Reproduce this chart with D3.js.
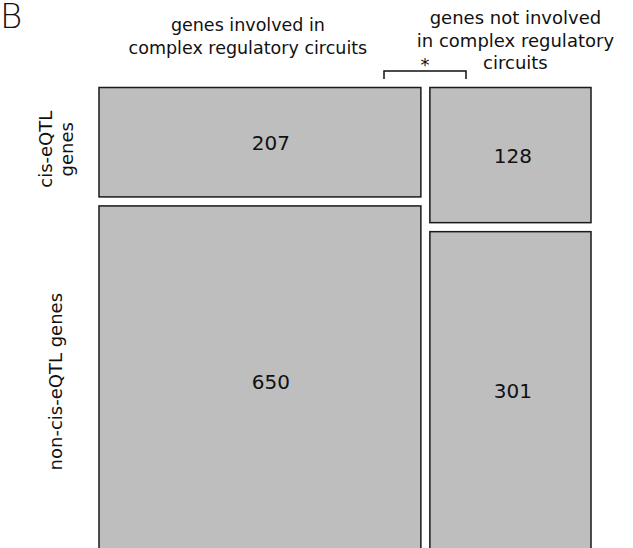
<!DOCTYPE html>
<html>
<head>
<meta charset="utf-8">
<script src="https://cdn.jsdelivr.net/npm/d3@7"></script>
<style>
  body { margin: 0; background: #fff; }
  text { font-family: "DejaVu Sans", sans-serif; fill: #111; }
</style>
</head>
<body>
<div id="chart"></div>
<script>
// mosaic: columns = circuit involvement, rows = cis-eQTL status
var columnNames = ["involved", "not involved"];
var columnLabels = [
    ["genes involved in", "complex regulatory circuits"],
    ["genes not involved", "in complex regulatory", "circuits"]
];
var rowLabels = [["cis-eQTL", "genes"], ["non-cis-eQTL genes"]];
var cisCounts = [207, 128];
var nonCisCounts = [650, 301];

var w = 633, h = 548;
var marginLeft = 99, marginTop = 87.5;
var plotW = 492, plotH = 462;
var gap = 9;

var colTotals = columnNames.map((c, i) => cisCounts[i] + nonCisCounts[i]);
var grand = d3.sum(colTotals);

var x = d3.scaleLinear().domain([0, grand]).range([0, plotW - gap]);

var svg = d3.select("#chart")
    .append("svg")
    .attr("width", w)
    .attr("height", h);

// build cells
var cells = [];
var xOff = 0;
columnNames.forEach(function(c, i){
    var y = d3.scaleLinear().domain([0, colTotals[i]]).range([0, plotH - gap]);
    var vals = [cisCounts[i], nonCisCounts[i]];
    var yOff = 0;
    vals.forEach(function(v, j){
        cells.push({
            col: i, row: j, value: v,
            x: marginLeft + x(xOff) + i * gap,
            y: marginTop + y(yOff) + j * gap,
            w: x(colTotals[i]),
            h: y(v)
        });
        yOff += v;
    });
    xOff += colTotals[i];
});

var g = svg.selectAll("g.cell")
    .data(cells)
    .enter()
    .append("g")
    .attr("class", "cell");

g.append("rect")
    .attr("x", d => d.x)
    .attr("y", d => d.y)
    .attr("width", d => d.w)
    .attr("height", d => d.h)
    .attr("fill", "#bebebe")
    .attr("stroke", "#1a1a1a")
    .attr("stroke-width", 1.5);

var nudge = [11, 2.5];
g.append("text")
    .attr("x", d => d.x + d.w / 2 + nudge[d.col])
    .attr("y", d => d.y + d.h / 2 + (d.row === 1 && d.col === 0 ? 6 : 2))
    .attr("text-anchor", "middle")
    .attr("dominant-baseline", "middle")
    .style("font-size", "20px")
    .text(d => d.value);

// column labels
var colCenters = [];
columnNames.forEach(function(c, i){
    var cell = cells.find(d => d.col === i && d.row === 0);
    colCenters.push(cell.x + cell.w / 2);
});
var colLabelBase = [31, 24];
var colShift = [-12, 5];
var colFont = [17.5, 18];
columnLabels.forEach(function(lines, i){
    var t = svg.append("text")
        .attr("text-anchor", "middle")
        .style("font-size", colFont[i] + "px");
    lines.forEach(function(s, k){
        t.append("tspan")
            .attr("x", colCenters[i] + colShift[i])
            .attr("y", colLabelBase[i] + k * 22.5)
            .text(s);
    });
});

// row labels (rotated)
var rowCenters = [0, 1].map(function(j){
    var cell = cells.find(d => d.col === 0 && d.row === j);
    return cell.y + cell.h / 2;
});
var rowShift = [7, 4];
rowLabels.forEach(function(lines, j){
    var cy = rowCenters[j] + rowShift[j];
    var n = lines.length;
    lines.forEach(function(s, k){
        var lx = 62 + (k - (n - 1) / 2) * 21;
        svg.append("text")
            .attr("transform", "translate(" + lx + "," + cy + ") rotate(-90)")
            .attr("text-anchor", "middle")
            .style("font-size", "18px")
            .text(s);
    });
});

// significance bracket
var bx0 = 384, bx1 = 466, by = 71;
svg.append("path")
    .attr("d", "M" + bx0 + "," + (by + 8) + "V" + by + "H" + bx1 + "V" + (by + 8))
    .attr("fill", "none")
    .attr("stroke", "#111")
    .attr("stroke-width", 1.5);
svg.append("text")
    .attr("x", (bx0 + bx1) / 2)
    .attr("y", 71)
    .attr("text-anchor", "middle")
    .style("font-size", "18px")
    .text("*");

// panel letter
svg.append("text")
    .attr("x", 0)
    .attr("y", 28)
    .style("font-family", "'DejaVu Sans', sans-serif")
    .style("font-weight", "200")
    .style("font-size", "34px")
    .text("B");
</script>
</body>
</html>
